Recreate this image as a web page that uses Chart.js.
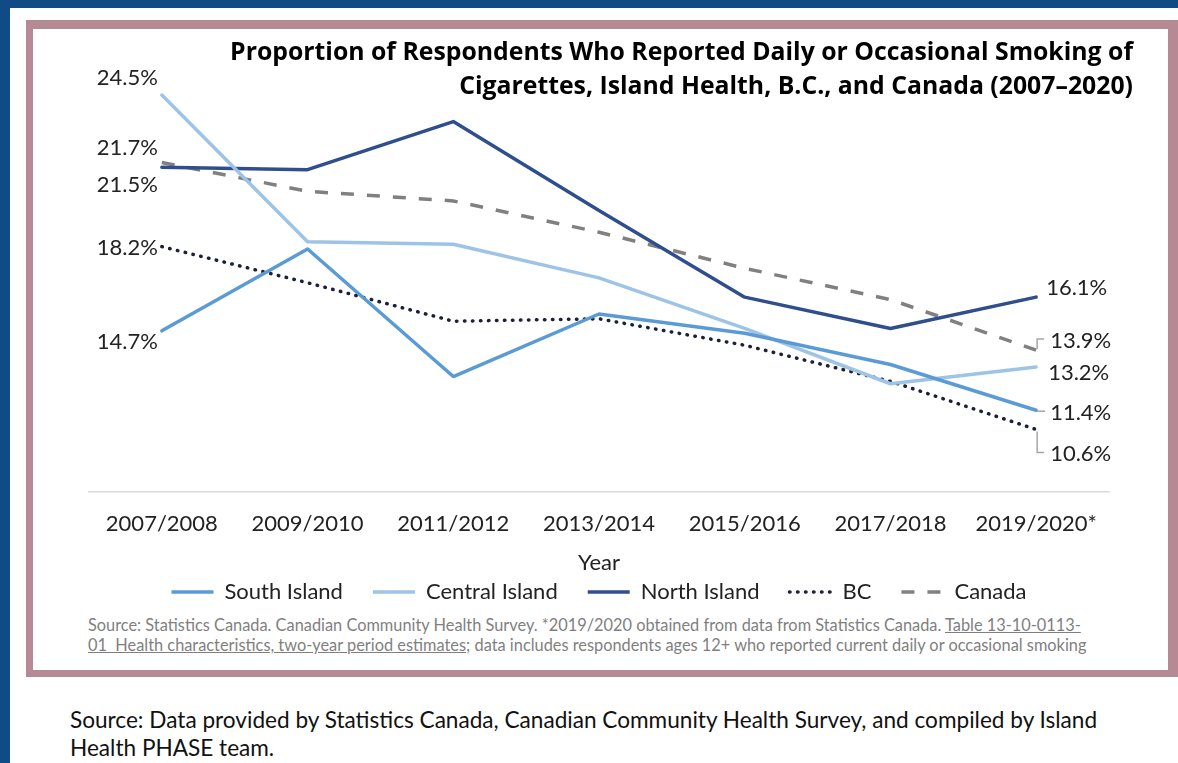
<!DOCTYPE html>
<html>
<head>
<meta charset="utf-8">
<title>Smoking proportion chart</title>
<script src="https://cdn.jsdelivr.net/npm/chart.js@4.4.1/dist/chart.umd.min.js"></script>
<style>
  html, body { margin: 0; padding: 0; }
  body { width: 1178px; height: 763px; background: #114b86; position: relative; overflow: hidden; font-family: Lato, sans-serif; }
  .sheet { position: absolute; left: 10px; top: 8px; right: 0; bottom: 0; background: #fff; }
  .frame { position: absolute; left: 26px; top: 20px; width: 1135px; height: 641px; border-style: solid; border-color: #b68a94; border-width: 9px 10px 7px 7px; }
  #chartBox { position: absolute; left: 33px; top: 29px; width: 1135px; height: 584px; }
  .title { position: absolute; right: 45px; top: 33px; text-align: right; font-family: 'Open Sans', sans-serif; font-weight: bold; font-size: 24.8px; line-height: 34px; color: #000; white-space: nowrap; }
  .note { position: absolute; left: 88px; top: 615px; font-size: 16.35px; line-height: 20px; color: #7f7f7f; white-space: nowrap; }
  .note u { text-decoration-color: #7f7f7f; }
  .source { position: absolute; left: 70px; top: 706px; font-size: 22.6px; line-height: 28px; color: #111; white-space: nowrap; }
</style>
</head>
<body>
<div class="sheet"></div>
<div class="frame"></div>
<div id="chartBox"><canvas id="smokeChart" width="1135" height="584"></canvas></div>
<div class="title">Proportion of Respondents Who Reported Daily or Occasional Smoking of<br>Cigarettes, Island Health, B.C., and Canada (2007–2020)</div>
<div class="note">Source: Statistics Canada. Canadian Community Health Survey. *2019/2020 obtained from data from Statistics Canada. <u>Table 13-10-0113-</u><br><u>01&nbsp; Health characteristics, two-year period estimates</u>; data includes respondents ages 12+ who reported current daily or occasional smoking</div>
<div class="source">Source: Data provided by Statistics Canada, Canadian Community Health Survey, and compiled by Island<br>Health PHASE team.</div>

<script>
// 数据（百分比）
const years = ['2007/2008', '2009/2010', '2011/2012', '2013/2014', '2015/2016', '2017/2018', '2019/2020*'];
const southIsland = [14.7, 18.1, 12.8, 15.4, 14.6, 13.3, 11.4];
const centralIsland = [24.5, 18.4, 18.3, 16.9, 14.8, 12.5, 13.2];
const northIsland = [21.5, 21.4, 23.4, 19.7, 16.1, 14.8, 16.1];
const bcValues = [18.2, 16.7, 15.1, 15.2, 14.1, 12.6, 10.6];
const canadaValues = [21.7, 20.5, 20.1, 18.8, 17.3, 16.0, 13.9];

// 首尾数据标签的偏移（像素），顺序同数据集
const labelOffsets = [
  { first: [-4, 11], last: [14, 3], leader: [[1, 1], [9, 1]] },
  { first: [-4, -17], last: [12, 6], leader: null },
  { first: [-4, 18], last: [10, -9], leader: null },
  { first: [-4, 1], last: [14, 24], leader: [[1, 2], [1, 23], [8, 23]] },
  { first: [-4, -15], last: [14, -9], leader: [[1, -1], [1, -11], [8, -11]] }
];

// 画首尾两端的数值标签
const endLabels = {
  id: 'endLabels',
  afterDatasetsDraw(chart) {
    const ctx = chart.ctx;
    ctx.save();
    ctx.font = '22px Lato';
    ctx.fillStyle = '#222';
    ctx.textBaseline = 'middle';
    chart.data.datasets.forEach((ds, i) => {
      const pts = chart.getDatasetMeta(i).data;
      const off = labelOffsets[i];
      const first = pts[0];
      const last = pts[pts.length - 1];

      ctx.textAlign = 'right';
      ctx.fillText(ds.data[0].toFixed(1) + '%', first.x + off.first[0], first.y + off.first[1]);

      if (off.leader) {
        ctx.beginPath();
        ctx.strokeStyle = '#a6a6a6';
        ctx.lineWidth = 1.5;
        off.leader.forEach((p, k) => {
          if (k === 0) ctx.moveTo(last.x + p[0], last.y + p[1]);
          else ctx.lineTo(last.x + p[0], last.y + p[1]);
        });
        ctx.stroke();
      }
      ctx.textAlign = 'left';
      ctx.fillText(ds.data[ds.data.length - 1].toFixed(1) + '%', last.x + off.last[0], last.y + off.last[1]);
    });
    ctx.restore();
  }
};

document.addEventListener('DOMContentLoaded', function () {
  const ctx = document.getElementById('smokeChart').getContext('2d');

  new Chart(ctx, {
    type: 'line',
    data: {
      labels: years,
      datasets: [
        { label: 'South Island', data: southIsland, borderColor: '#5b9bd5', borderWidth: 3.5 },
        { label: 'Central Island', data: centralIsland, borderColor: '#9dc3e6', borderWidth: 3.5 },
        { label: 'North Island', data: northIsland, borderColor: '#2f4e8e', borderWidth: 3.5 },
        { label: 'BC', data: bcValues, borderColor: '#1b1f3b', borderWidth: 3.5, borderDash: [0.5, 7.5], borderCapStyle: 'round' },
        { label: 'Canada', data: canadaValues, borderColor: '#808080', borderWidth: 3.5, borderDash: [13, 13], borderCapStyle: 'butt' }
      ]
    },
    options: {
      responsive: false,
      animation: false,
      elements: {
        line: { tension: 0, borderJoinStyle: 'round', borderCapStyle: 'round', fill: false },
        point: { radius: 0, hoverRadius: 0 }
      },
      layout: {
        padding: { left: 56, right: 59, top: 30, bottom: 0 }
      },
      scales: {
        x: {
          offset: true,
          grid: { display: false, drawTicks: false },
          border: { display: true, color: '#d9d9d9', width: 1.5 },
          ticks: {
            padding: 21,
            color: '#222',
            maxRotation: 0,
            font: { family: 'Lato', size: 22, lineHeight: 1 }
          },
          title: {
            display: true,
            text: 'Year',
            color: '#222',
            font: { family: 'Lato', size: 22, lineHeight: 1 },
            padding: { top: -4, bottom: -23 }
          }
        },
        y: {
          display: false,
          min: 8,
          max: 26
        }
      },
      plugins: {
        legend: {
          position: 'bottom',
          labels: {
            usePointStyle: true,
            pointStyle: 'line',
            pointStyleWidth: 42,
            padding: 30,
            color: '#222',
            font: { family: 'Lato', size: 22 },
            // 图例线条沿用数据集的虚线样式
            generateLabels(chart) {
              const items = Chart.defaults.plugins.legend.labels.generateLabels(chart);
              items.forEach(item => {
                const ds = chart.data.datasets[item.datasetIndex];
                item.pointStyle = 'line';
                item.lineDash = ds.borderDash || [];
                item.lineCap = ds.borderCapStyle || 'butt';
                item.lineWidth = 3.5;
              });
              return items;
            }
          }
        },
        tooltip: { enabled: false }
      }
    },
    plugins: [endLabels]
  });
});
</script>
</body>
</html>
